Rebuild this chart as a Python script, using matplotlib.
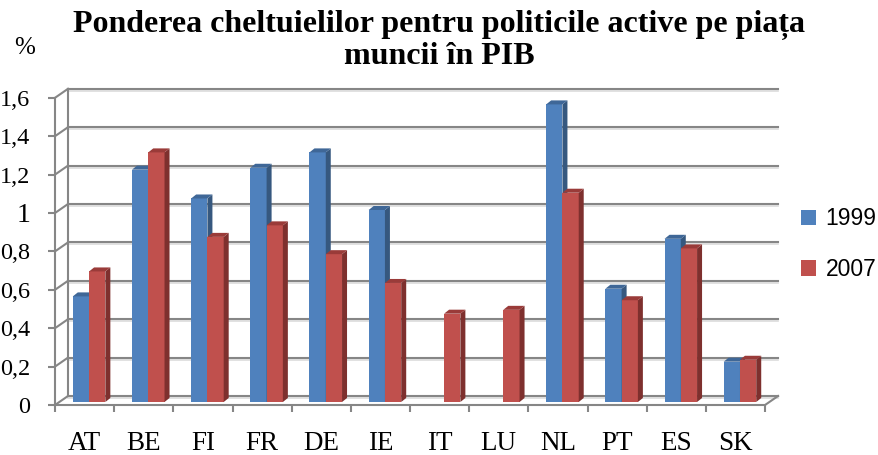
import numpy as np
import matplotlib.pyplot as plt
from matplotlib.patches import Polygon, Rectangle, Patch
from matplotlib.transforms import ScaledTranslation

# Share of active labour market policy spending in GDP (%), 1999 vs 2007
countries = ["AT", "BE", "FI", "FR", "DE", "IE", "IT", "LU", "NL", "PT", "ES", "SK"]
v1999 = [0.55, 1.21, 1.06, 1.22, 1.30, 1.00, np.nan, np.nan, 1.55, 0.59, 0.85, 0.21]
v2007 = [0.68, 1.30, 0.86, 0.92, 0.77, 0.62, 0.46, 0.48, 1.09, 0.53, 0.80, 0.22]
series_names = ["1999", "2007"]
yticks = [0, 0.2, 0.4, 0.6, 0.8, 1.0, 1.2, 1.4, 1.6]
ytick_labels = ["0", "0,2", "0,4", "0,6", "0,8", "1", "1,2", "1,4", "1,6"]

SERIF = "Liberation Serif"
front = ["#4F81BD", "#C0504D"]
side = ["#36587F", "#7E302E"]
top = ["#3F6797", "#9A3B39"]

W, H = 879, 455
fig = plt.figure(figsize=(W / 100, H / 100), dpi=100)

# pixel geometry of the plotting box
px_unit_x = 59.17
px_unit_y = 192.0
ax_left_px, ax_bot_px = 55, 405
xmin, xmax = -0.5, 11.75
ymin, ymax = 0.0, 1.66
ax = fig.add_axes([ax_left_px / W, (H - ax_bot_px) / H,
                   (xmax - xmin) * px_unit_x / W, (ymax - ymin) * px_unit_y / H])
ax.set_xlim(xmin, xmax)
ax.set_ylim(ymin, ymax)

# 3D depth offsets (data units)
wall_dx, wall_dy = 13 / px_unit_x, 9 / px_unit_y
bar_base = 3 / px_unit_y
ddx, ddy = 5 / px_unit_x, 4 / px_unit_y

grid_c = "#868686"
shadow = ax.transData + ScaledTranslation(0, -2 / 100, fig.dpi_scale_trans)
# back wall gridlines and left wall diagonals
for yv in yticks:
    ax.plot([-0.5 + wall_dx, 11.5 + wall_dx], [yv + wall_dy, yv + wall_dy],
            color="#dcdcdc", lw=1.2, zorder=1, clip_on=False, transform=shadow)
    ax.plot([-0.5 + wall_dx, 11.5 + wall_dx], [yv + wall_dy, yv + wall_dy],
            color=grid_c, lw=1.5, zorder=1, clip_on=False)
    ax.plot([-0.5, -0.5 + wall_dx], [yv, yv + wall_dy], color=grid_c, lw=1.5,
            zorder=1, clip_on=False)
# floor right edge and back corner
ax.plot([11.5, 11.5 + wall_dx], [0, wall_dy], color=grid_c, lw=1.5, zorder=1, clip_on=False)
ax.plot([-0.5 + wall_dx, -0.5 + wall_dx], [wall_dy, 1.6 + wall_dy], color=grid_c, lw=1.5,
        zorder=1, clip_on=False)

# bars with fake 3D faces
w = 0.275
shift = 0.076
x = np.arange(len(countries))
for s, vals in enumerate([v1999, v2007]):
    for i, v in enumerate(vals):
        if np.isnan(v):
            continue
        x0 = i + shift - w + s * w
        b = bar_base
        h = b + v
        ax.add_patch(Rectangle((x0, b), w, v, facecolor=front[s], edgecolor="none",
                               zorder=3 + s))
        ax.add_patch(Polygon([(x0 + w, b), (x0 + w + ddx, b + ddy), (x0 + w + ddx, h + ddy),
                              (x0 + w, h)], closed=True, facecolor=side[s],
                             edgecolor="none", zorder=3 + s))
        ax.add_patch(Polygon([(x0, h), (x0 + ddx, h + ddy), (x0 + w + ddx, h + ddy),
                              (x0 + w, h)], closed=True, facecolor=top[s],
                             edgecolor="none", zorder=3 + s))

# axes styling
for sp in ["top", "right"]:
    ax.spines[sp].set_visible(False)
ax.spines["left"].set_bounds(0, 1.6)
ax.spines["bottom"].set_bounds(-0.5, 11.5)
for sp in ["left", "bottom"]:
    ax.spines[sp].set_color(grid_c)
    ax.spines[sp].set_linewidth(1.5)
    ax.spines[sp].set_zorder(2)

ax.set_yticks(yticks)
ax.set_yticklabels(ytick_labels, fontsize=17.5, family=SERIF)
for lab in ax.get_yticklabels():
    if lab.get_text() == "1":
        lab.set_fontsize(20)
ax.set_xticks(x)
ax.set_xticklabels(countries, fontsize=19.5, family=SERIF)
ax.set_xticks(np.arange(-0.5, 12, 1), minor=True)
ax.tick_params(axis="x", which="major", length=0, pad=19)
ax.tick_params(axis="x", which="minor", length=5, width=1.5, color=grid_c, direction="out")
ax.tick_params(axis="y", length=5, width=1.5, color=grid_c, pad=13)
ax.patch.set_visible(False)

# title and unit
fig.text(0.5, 1 - 32 / H, "Ponderea cheltuielilor pentru politicile active pe piața",
         ha="center", va="baseline", fontsize=23, fontweight="bold", family=SERIF)
fig.text(0.5, 1 - 64 / H, "muncii în PIB",
         ha="center", va="baseline", fontsize=23, fontweight="bold", family=SERIF)
fig.text(25 / W, 1 - 48 / H, "%", ha="center", va="center", fontsize=18, family=SERIF)

handles = [Patch(facecolor=front[0]), Patch(facecolor=front[1])]
fig.legend(handles, series_names, loc="upper left", bbox_to_anchor=(790 / W, 1 - 196 / H),
           frameon=False, handlelength=0.65, handleheight=0.65,
           handletextpad=0.4, labelspacing=1.2, borderpad=0,
           prop={"family": "Liberation Sans", "size": 16.5})

fig.savefig("out.png", dpi=100)
